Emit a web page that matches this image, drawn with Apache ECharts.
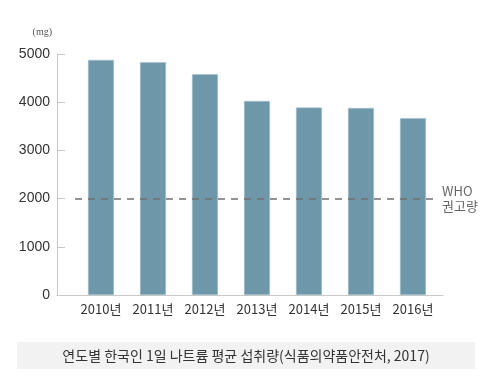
<!DOCTYPE html>
<html><head><meta charset="utf-8">
<script src="https://cdn.jsdelivr.net/npm/echarts@6/dist/echarts.min.js"></script>
<style>html,body{margin:0;padding:0;background:#fff}#c{width:500px;height:385px}</style>
</head><body><div id="c"></div>
<script>
const categories = ['2010년','2011년','2012년','2013년','2014년','2015년','2016년'];
const sodium = [4878, 4831, 4583, 4027, 3890, 3880, 3669];
const whoLevel = 2000;
const yTicks = [0, 1000, 2000, 3000, 4000, 5000];
const unitLabel = '(mg)';
const whoLabel = 'WHO\n권고량';
const caption = '연도별 한국인 1일 나트륨 평균 섭취량(식품의약품안전처, 2017)';

const FONT = '"Noto Sans CJK KR", "Noto Sans", sans-serif';
const chart = echarts.init(document.getElementById('c'));
chart.setOption({
  animation: false,
  textStyle: {fontFamily: FONT},
  grid: [
    {left: 75, right: 61, top: 54, bottom: 90},
    {left: 57, right: 57, top: 54, bottom: 90}
  ],
  xAxis: [
    {type: 'category', gridIndex: 0, data: categories,
     axisLine: {show: false}, axisTick: {show: false},
     axisLabel: {interval: 0, color: '#333', fontSize: 13, margin: 8, fontFamily: FONT}},
    {type: 'value', gridIndex: 1, min: 0, max: 1,
     axisLine: {show: true, lineStyle: {color: '#c8c8c8', width: 1}},
     axisTick: {show: false}, axisLabel: {show: false}, splitLine: {show: false}}
  ],
  yAxis: [
    {type: 'value', gridIndex: 0, min: yTicks[0], max: yTicks[yTicks.length-1], interval: 1000,
     offset: 18,
     name: unitLabel, nameLocation: 'end', nameGap: 17,
     nameTextStyle: {color: '#555', fontSize: 10, align: 'right', padding: [0, 5, 0, 0], fontFamily: 'Liberation Serif, serif'},
     axisLine: {show: true, lineStyle: {color: '#c8c8c8', width: 1}},
     axisTick: {show: true, inside: true, length: 8, lineStyle: {color: '#c8c8c8'}},
     axisLabel: {color: '#333', fontSize: 14, margin: 7, fontFamily: 'Liberation Sans, sans-serif',
                 formatter: v => String(v)},
     splitLine: {show: false}},
    {type: 'value', gridIndex: 1, show: false, min: 0, max: 1}
  ],
  series: [{
    type: 'bar', xAxisIndex: 0, yAxisIndex: 0,
    data: sodium, barWidth: 26,
    itemStyle: {color: '#6e97a9', borderColor: '#a9c3ce', borderWidth: 0.6},
    markLine: {
      symbol: ['none', 'none'], silent: true,
      lineStyle: {color: '#707070', type: [7, 6], width: 1.6},
      label: {show: true, position: 'end', formatter: whoLabel, color: '#666',
              fontSize: 13, lineHeight: 15, distance: 3, fontFamily: FONT},
      data: [{yAxis: whoLevel}]
    }
  }],
  graphic: [
    {type: 'rect', shape: {x: 17, y: 342, width: 458, height: 27}, style: {fill: '#f2f2f2'}, z: 0},
    {type: 'text', x: 246, y: 355.5, z: 1,
     style: {text: caption, fill: '#333', font: '14px ' + FONT, textAlign: 'center', textVerticalAlign: 'middle'}}
  ]
});
</script></body></html>
